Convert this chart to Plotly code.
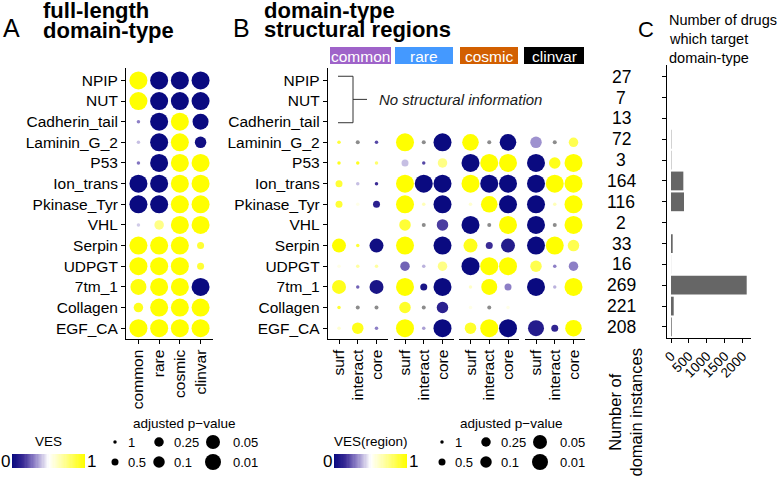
import numpy as np
import plotly.graph_objects as go

W, H = 777, 482
FONT = "Liberation Sans, Arial, Helvetica, sans-serif"
nan = float("nan")

domain_types = ["NPIP", "NUT", "Cadherin_tail", "Laminin_G_2", "P53", "Ion_trans",
                "Pkinase_Tyr", "VHL", "Serpin", "UDPGT", "7tm_1", "Collagen", "EGF_CA"]
variant_sets = ["common", "rare", "cosmic", "clinvar"]
strip_colors = ["#9f63c9", "#4499ff", "#d25f00", "#000000"]
regions = ["surf", "interact", "core"]

# ---------------- Panel A: full-length domain-type ----------------
ves_full = [
    [1.00, 0.00, 0.00, 0.00],  # NPIP
    [1.00, 0.00, 0.00, 0.00],  # NUT
    [0.30, 0.00, 1.00, 0.00],  # Cadherin_tail
    [0.40, 0.00, 1.00, 0.02],  # Laminin_G_2
    [0.28, 0.00, 1.00, 1.00],  # P53
    [0.00, 0.00, 1.00, 1.00],  # Ion_trans
    [0.00, 0.00, 1.00, 1.00],  # Pkinase_Tyr
    [0.42, 0.75, 1.00, 1.00],  # VHL
    [1.00, 1.00, 1.00, 0.90],  # Serpin
    [1.00, 1.00, 1.00, 0.90],  # UDPGT
    [0.98, 1.00, 1.00, 0.00],  # 7tm_1
    [0.95, 1.00, 1.00, 1.00],  # Collagen
    [1.00, 1.00, 1.00, 1.00],  # EGF_CA
]
padj_full = [
    [0.001, 0.001, 0.001, 0.001],
    [0.001, 0.001, 0.001, 0.001],
    [1.0, 0.001, 0.001, 0.01],
    [1.0, 0.001, 0.001, 0.1],
    [1.0, 0.001, 0.001, 0.001],
    [0.001, 0.001, 0.001, 0.001],
    [0.001, 0.001, 0.001, 0.001],
    [1.0, 0.25, 0.001, 0.001],
    [0.001, 0.001, 0.001, 0.5],
    [0.001, 0.001, 0.001, 0.5],
    [0.01, 0.001, 0.001, 0.001],
    [0.25, 0.001, 0.001, 0.001],
    [0.001, 0.001, 0.001, 0.001],
]

# ---------------- Panel B: structural regions (surf, interact, core) ----------------
# ves = nan with a p-value -> NA (grey); p = nan -> no point
ves_common = [[nan, nan, nan], [nan, nan, nan], [nan, nan, nan],
              [0.90, nan, 0.20], [0.95, 0.95, 0.80], [0.90, 0.40, 0.15], [0.90, 0.55, 0.10],
              [nan, nan, nan], [1.00, 0.90, 0.02], [0.55, 0.70, 0.70], [0.95, 0.25, 0.05],
              [0.90, nan, nan], [0.60, 0.95, 0.30]]
padj_common = [[nan, nan, nan], [nan, nan, nan], [nan, nan, nan],
               [1, 1, 1], [1, 1, 1], [0.5, 1, 1], [0.5, 1, 0.5],
               [nan, nan, nan], [0.05, 1, 0.05], [1, 1, 1], [0.05, 1, 0.05],
               [1, 1, 1], [1, 0.1, 1]]
ves_rare = [[nan, nan, nan], [nan, nan, nan], [nan, nan, nan],
            [1.00, nan, 0.00], [0.40, 0.20, 0.75], [1.00, 0.00, 0.00], [1.00, 0.65, 0.00],
            [0.90, nan, 0.18], [1.00, 0.50, 0.00], [0.25, 0.38, 0.75], [1.00, 0.05, 0.00],
            [0.92, nan, 0.10], [1.00, 0.35, 0.00]]
padj_rare = [[nan, nan, nan], [nan, nan, nan], [nan, nan, nan],
             [0.001, 1, 0.001], [0.5, 1, 0.25], [0.001, 0.001, 0.001], [0.001, 1, 0.001],
             [0.1, 1, 0.1], [0.001, 1, 0.001], [0.25, 1, 0.25], [0.001, 0.5, 0.001],
             [0.1, 1, 0.1], [0.001, 1, 0.001]]
ves_cosmic = [[nan, nan, nan], [nan, nan, nan], [nan, nan, nan],
              [1.00, nan, 0.00], [0.00, 1.00, 1.00], [1.00, 0.00, 0.00], [0.60, 1.00, 0.00],
              [0.00, nan, 1.00], [0.95, 0.15, 0.08], [0.00, 1.00, 1.00], [0.62, 1.00, 0.30],
              [0.55, nan, 0.55], [0.92, 1.00, 0.00]]
padj_cosmic = [[nan, nan, nan], [nan, nan, nan], [nan, nan, nan],
               [0.005, 1, 0.005], [0.001, 0.001, 0.001], [0.001, 0.001, 0.001], [1, 0.005, 0.001],
               [0.001, 1, 0.001], [0.05, 0.5, 0.05], [0.001, 0.001, 0.001], [1, 0.01, 0.5],
               [1, 1, 1], [0.1, 0.001, 0.001]]
ves_clinvar = [[nan, nan, nan], [nan, nan, nan], [nan, nan, nan],
               [0.33, nan, 0.85], [0.00, 0.95, 1.00], [0.00, 1.00, 1.00], [0.00, 0.65, 1.00],
               [0.00, nan, 1.00], [0.00, 1.00, 0.85], [0.85, 0.30, 0.30], [0.00, 0.38, 1.00],
               [nan, nan, nan], [0.08, 0.12, 1.00]]
padj_clinvar = [[nan, nan, nan], [nan, nan, nan], [nan, nan, nan],
                [0.1, 1, 0.25], [0.001, 0.1, 0.001], [0.001, 0.001, 0.001], [0.001, 1, 0.001],
                [0.001, 1, 0.001], [0.001, 0.001, 0.1], [0.1, 1, 0.25], [0.001, 1, 0.001],
                [nan, nan, nan], [0.01, 0.5, 0.005]]

# ---------------- Panel C ----------------
n_instances = [27, 7, 13, 72, 3, 164, 116, 2, 33, 16, 269, 221, 208]
n_drugs = [0, 0, 0, 8, 8, 344, 363, 0, 47, 2, 2114, 75, 20]
drug_ticks = [0, 500, 1000, 1500, 2000]

pval_legend = [1, 0.5, 0.25, 0.1, 0.05, 0.01]

# ---------------- styling helpers ----------------
CS = [[0.0, "#0a0a80"], [0.15, "#3b2c96"], [0.3, "#8d7fc6"], [0.5, "#ffffff"],
      [0.7, "#ffffa0"], [1.0, "#ffff00"]]
NA_COLOR = "#8c8c8c"


def dot_size(p):
    x = -np.log10(np.asarray(p, dtype=float))
    return np.interp(x, [0, 0.301, 0.602, 1.0, 1.301, 2.0, 3.0],
                     [3.5, 7.0, 9.5, 11.5, 14.0, 16.0, 18.0])


def px(x):
    return x / W


def py(y):
    return 1 - y / H


fig = go.Figure()


def add_dots(ves, padj, xaxis, yaxis):
    xs, ys, cs, ss = [], [], [], []
    gx, gy, gs = [], [], []
    for r, (vrow, prow) in enumerate(zip(ves, padj)):
        for c, (v, p) in enumerate(zip(vrow, prow)):
            if np.isnan(p):
                continue
            if np.isnan(v):
                gx.append(c); gy.append(r); gs.append(4)
            else:
                xs.append(c); ys.append(r); cs.append(v); ss.append(float(dot_size(p)))
    fig.add_trace(go.Scatter(x=xs, y=ys, mode="markers", xaxis=xaxis, yaxis=yaxis,
                             marker=dict(size=ss, color=cs, colorscale=CS, cmin=0, cmax=1,
                                         line=dict(width=0), opacity=1),
                             showlegend=False, hoverinfo="skip"))
    if gx:
        fig.add_trace(go.Scatter(x=gx, y=gy, mode="markers", xaxis=xaxis, yaxis=yaxis,
                                 marker=dict(size=gs, color=NA_COLOR, line=dict(width=0),
                                             opacity=1),
                                 showlegend=False, hoverinfo="skip"))


add_dots(ves_full, padj_full, "x", "y")
region_sets = [(ves_common, padj_common), (ves_rare, padj_rare),
               (ves_cosmic, padj_cosmic), (ves_clinvar, padj_clinvar)]
for k, (v, p) in enumerate(region_sets):
    add_dots(v, p, f"x{k + 2}", "y2")

# Panel C bars
fig.add_trace(go.Bar(y=list(range(len(domain_types))), x=n_drugs, orientation="h",
                     width=0.9, marker=dict(color="#666666", line=dict(width=0)),
                     xaxis="x6", yaxis="y3", showlegend=False, hoverinfo="skip"))

# ---------------- legends (overlay axis in pixel units) ----------------
def add_legends(x0cb, x0dots):
    # colour bar
    edges = np.linspace(x0cb, x0cb + 73, 61)
    fig.add_trace(go.Heatmap(z=[np.linspace(0, 1, 60)], x=edges, y=[454, 468],
                             colorscale=CS, zmin=0, zmax=1, showscale=False,
                             xaxis="x7", yaxis="y4", hoverinfo="skip"))
    # size legend
    colx = [x0dots, x0dots + 44, x0dots + 98]
    lx, ly, ls = [], [], []
    for i, p in enumerate(pval_legend):
        lx.append(colx[i // 2]); ly.append(442 if i % 2 == 0 else 462)
        ls.append(float(dot_size(p)))
    fig.add_trace(go.Scatter(x=lx, y=ly, mode="markers", xaxis="x7", yaxis="y4",
                             marker=dict(size=ls, color="black", line=dict(width=0), opacity=1),
                             showlegend=False, hoverinfo="skip"))
    offs = [11, 13, 18]
    for i, p in enumerate(pval_legend):
        fig.add_annotation(x=colx[i // 2] + offs[i // 2], y=442 if i % 2 == 0 else 462,
                           xref="x7", yref="y4", text=str(p), showarrow=False,
                           xanchor="left", yanchor="middle",
                           font=dict(size=13, color="black", family=FONT))
    fig.add_annotation(x=x0dots + 69, y=423, xref="x7", yref="y4",
                       text="adjusted p\u2212value", showarrow=False,
                       xanchor="center", yanchor="middle",
                       font=dict(size=13.5, color="black", family=FONT))
    fig.add_annotation(x=x0cb - 7, y=461, xref="x7", yref="y4", text="0", showarrow=False,
                       xanchor="center", yanchor="middle", font=dict(size=17, color="black", family=FONT))
    fig.add_annotation(x=x0cb + 79, y=461, xref="x7", yref="y4", text="1", showarrow=False,
                       xanchor="center", yanchor="middle", font=dict(size=17, color="black", family=FONT))


add_legends(12, 115)
add_legends(334, 442)
fig.add_annotation(x=px(49), y=py(441), xref="paper", yref="paper", text="VES", showarrow=False,
                   xanchor="center", yanchor="middle", font=dict(size=13.5, color="black", family=FONT))
fig.add_annotation(x=px(371), y=py(441), xref="paper", yref="paper", text="VES(region)",
                   showarrow=False, xanchor="center", yanchor="middle",
                   font=dict(size=13.5, color="black", family=FONT))

# ---------------- axes ----------------
axis_common = dict(showline=True, linecolor="black", linewidth=1, ticks="outside", ticklen=4,
                   tickwidth=1, tickcolor="black", showgrid=False, zeroline=False,
                   fixedrange=True, automargin=False,
                   tickfont=dict(size=15.5, color="black", family=FONT))
rows = list(range(len(domain_types)))
ydomA = [py(338.5), py(68)]
yrange = [12.5, -0.6]

layout_axes = {}
layout_axes["xaxis"] = dict(axis_common, domain=[px(126), px(213)], range=[-0.6, 3.6], anchor="y",
                            tickvals=[0, 1, 2, 3], ticktext=variant_sets, tickangle=-90)
layout_axes["yaxis"] = dict(axis_common, domain=ydomA, range=yrange, anchor="x",
                            tickvals=rows, ticktext=domain_types)
facet_starts = [327.75, 393.75, 459.25, 524.75]
for k, s in enumerate(facet_starts):
    layout_axes[f"xaxis{k + 2}"] = dict(axis_common, domain=[px(s), px(s + 60)], range=[-0.6, 2.6],
                                        anchor="y2", tickvals=[0, 1, 2], ticktext=regions,
                                        tickangle=-90)
layout_axes["yaxis2"] = dict(axis_common, domain=ydomA, range=yrange, anchor="x2",
                             tickvals=rows, ticktext=domain_types)
layout_axes["xaxis6"] = dict(axis_common, domain=[px(667), px(751)], range=[-112, 2234],
                             anchor="y3", tickvals=drug_ticks, ticktext=[str(t) for t in drug_ticks],
                             tickangle=-45, tickfont=dict(size=13.5, color="black", family=FONT))
layout_axes["yaxis3"] = dict(axis_common, domain=[py(338), py(65)], range=[12.53, -0.56],
                             anchor="x6", tickvals=rows, showticklabels=False)
layout_axes["xaxis7"] = dict(domain=[0, 1], range=[0, W], visible=False, anchor="y4",
                             fixedrange=True, showgrid=False, zeroline=False)
layout_axes["yaxis4"] = dict(domain=[0, 1], range=[H, 0], visible=False, anchor="x7",
                             fixedrange=True, showgrid=False, zeroline=False)
fig.update_layout(**layout_axes)

# numbers of domain instances
for r, n in enumerate(n_instances):
    fig.add_annotation(x=px(621), y=r, xref="paper", yref="y3", text=str(n), showarrow=False,
                       xanchor="center", yanchor="middle",
                       font=dict(size=17.5, color="black", family=FONT))
fig.add_annotation(x=px(625), y=py(412.5), xref="paper", yref="paper",
                   text="Number of<br>domain instances", showarrow=False, textangle=-90,
                   xanchor="center", yanchor="middle", align="center",
                   font=dict(size=16.5, color="black", family=FONT))

# ---------------- strips ----------------
strip_x = [(330, 391), (395, 453), (460, 518), (524, 584)]
for (a, b), col, name in zip(strip_x, strip_colors, variant_sets):
    fig.add_shape(type="rect", xref="paper", yref="paper", x0=px(a), x1=px(b),
                  y0=py(64), y1=py(47), fillcolor=col, line=dict(width=0))
    fig.add_annotation(x=px((a + b) / 2), y=py(56), xref="paper", yref="paper", text=name,
                       showarrow=False, xanchor="center", yanchor="middle",
                       font=dict(size=15.5, color="white", family=FONT))

# ---------------- bracket "No structural information" ----------------
bl = dict(color="#333333", width=1)
fig.add_shape(type="line", xref="paper", yref="y2", x0=px(338), x1=px(353), y0=-0.2, y1=-0.2, line=bl)
fig.add_shape(type="line", xref="paper", yref="y2", x0=px(338), x1=px(353), y0=2.05, y1=2.05, line=bl)
fig.add_shape(type="line", xref="paper", yref="y2", x0=px(353), x1=px(353), y0=-0.2, y1=2.05, line=bl)
fig.add_shape(type="line", xref="paper", yref="y2", x0=px(353), x1=px(367), y0=0.92, y1=0.92, line=bl)
fig.add_annotation(x=px(377), y=0.92, xref="paper", yref="y2", text="<i>No structural information</i>",
                   showarrow=False, xanchor="left", yanchor="middle",
                   font=dict(size=15, color="#1a1a1a", family=FONT))

# ---------------- titles ----------------
def label(x, y, text, size, bold=False, anchor="left"):
    fig.add_annotation(x=px(x), y=py(y), xref="paper", yref="paper",
                       text=f"<b>{text}</b>" if bold else text, showarrow=False,
                       xanchor=anchor, yanchor="middle",
                       font=dict(size=size, color="black", family=FONT))


label(1, 28, "A", 25)
label(41, 10.5, "full-length", 22, bold=True)
label(41, 31, "domain-type", 22, bold=True)
label(231, 28, "B", 25)
label(262, 10.5, "domain-type", 22, bold=True)
label(262, 29.5, "structural regions", 22, bold=True)
label(636, 29, "C", 22)
label(667, 20, "Number of drugs", 14.5)
label(667, 39, "which target", 14.5)
label(667, 57.5, "domain-type", 14.5)

fig.update_layout(width=W, height=H, margin=dict(l=0, r=0, t=0, b=0),
                  paper_bgcolor="white", plot_bgcolor="rgba(0,0,0,0)",
                  font=dict(family=FONT, color="black"), showlegend=False)

fig.write_html("out.html", config={"displayModeBar": False, "staticPlot": True},
               post_script="document.body.style.margin='0';document.body.style.padding='0';"
                           "document.documentElement.style.overflow='hidden';")
